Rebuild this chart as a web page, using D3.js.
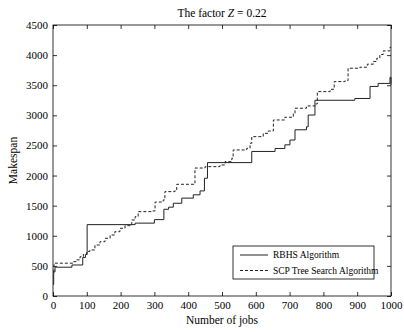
<!DOCTYPE html>
<html>
<head>
<meta charset="utf-8">
<script src="https://cdn.jsdelivr.net/npm/d3@7"></script>
<style>
  body { margin: 0; background: #fff; }
  svg text { font-family: "Liberation Serif", "Times New Roman", serif; fill: #000; }
</style>
</head>
<body>
<div id="chart"></div>
<script>
const xTicks = [0, 100, 200, 300, 400, 500, 600, 700, 800, 900, 1000];
const yTicks = [0, 500, 1000, 1500, 2000, 2500, 3000, 3500, 4000, 4500];

// RBHS Algorithm (solid)
const rbhsJobs = [0, 2, 6, 56, 88, 96, 101, 243, 300, 328, 342, 356, 381, 415, 435, 448, 457, 588, 657, 686, 701, 716, 750, 755, 775, 893, 938, 962, 997, 1000];
const rbhsSpan = [190, 400, 478, 515, 640, 690, 1185, 1210, 1268, 1440, 1475, 1540, 1625, 1680, 1745, 1955, 2215, 2400, 2450, 2510, 2590, 2760, 2810, 3005, 3250, 3280, 3480, 3530, 3630, 3510];

// SCP Tree Search Algorithm (dashed)
const scpJobs = [0, 3, 59, 70, 80, 90, 100, 109, 124, 139, 154, 169, 183, 198, 213, 228, 233, 243, 252, 292, 302, 326, 331, 361, 366, 420, 450, 494, 509, 529, 533, 573, 583, 588, 622, 637, 652, 686, 711, 716, 750, 775, 782, 820, 832, 864, 873, 908, 930, 948, 958, 967, 977, 997, 1000];
const scpSpan = [410, 545, 570, 600, 653, 690, 740, 764, 847, 902, 958, 1013, 1068, 1124, 1168, 1182, 1262, 1318, 1401, 1412, 1560, 1595, 1733, 1761, 1855, 2125, 2148, 2176, 2231, 2287, 2425, 2453, 2536, 2646, 2701, 2740, 2923, 2968, 3034, 3118, 3156, 3189, 3394, 3433, 3560, 3575, 3782, 3799, 3850, 3893, 3948, 4010, 4070, 4130, 4130];

const W = 404, H = 332;
const margin = { top: 25, right: 13, bottom: 36, left: 53 };
const width = W - margin.left - margin.right;
const height = H - margin.top - margin.bottom;

const svg = d3.select("#chart").append("svg")
    .attr("width", W)
    .attr("height", H);

const g = svg.append("g")
    .attr("transform", "translate(" + margin.left + "," + margin.top + ")");

const x = d3.scaleLinear().domain([0, 1000]).range([0, width]);
const y = d3.scaleLinear().domain([0, 4500]).range([height, 0]);

// axes, ticks pointing inward like matlab
const tick = 4;
const fmt = d3.format("d");
const styleAxis = sel => {
  sel.selectAll("path.domain").remove();
  sel.selectAll("line").attr("stroke", "#000").attr("stroke-width", 0.8);
  sel.selectAll("text").attr("font-size", 11);
};

g.append("g")
    .attr("transform", "translate(0," + height + ")")
    .call(d3.axisBottom(x).tickValues(xTicks).tickFormat(fmt).tickSizeInner(-tick).tickSizeOuter(0).tickPadding(5))
    .call(styleAxis);
g.append("g")
    .call(d3.axisTop(x).tickValues(xTicks).tickSizeInner(-tick).tickSizeOuter(0).tickFormat(""))
    .call(styleAxis);
g.append("g")
    .call(d3.axisLeft(y).tickValues(yTicks).tickFormat(fmt).tickSizeInner(-tick).tickSizeOuter(0).tickPadding(5))
    .call(styleAxis);
g.append("g")
    .attr("transform", "translate(" + width + ",0)")
    .call(d3.axisRight(y).tickValues(yTicks).tickSizeInner(-tick).tickSizeOuter(0).tickFormat(""))
    .call(styleAxis);

// box
g.append("rect")
    .attr("width", width)
    .attr("height", height)
    .attr("fill", "none")
    .attr("stroke", "#000")
    .attr("stroke-width", 0.8);

const line = d3.line()
    .x(d => x(d[0]))
    .y(d => y(d[1]))
    .curve(d3.curveStepAfter);

g.append("path")
    .datum(scpJobs.map((j, i) => [j, scpSpan[i]]))
    .attr("fill", "none")
    .attr("stroke", "#222")
    .attr("stroke-width", 1)
    .attr("stroke-dasharray", "3,2")
    .attr("d", line);

g.append("path")
    .datum(rbhsJobs.map((j, i) => [j, rbhsSpan[i]]))
    .attr("fill", "none")
    .attr("stroke", "#222")
    .attr("stroke-width", 1)
    .attr("d", line);

// title
const title = svg.append("text")
    .attr("x", margin.left + width / 2)
    .attr("y", 17)
    .attr("text-anchor", "middle")
    .attr("font-size", 11.5);
title.append("tspan").text("The factor ");
title.append("tspan").attr("font-style", "italic").text("Z");
title.append("tspan").text(" = 0.22");

// axis labels
svg.append("text")
    .attr("x", margin.left + width / 2)
    .attr("y", 324)
    .attr("text-anchor", "middle")
    .attr("font-size", 11.5)
    .text("Number of jobs");

svg.append("text")
    .attr("transform", "translate(17," + (margin.top + height / 2) + ") rotate(-90)")
    .attr("text-anchor", "middle")
    .attr("font-size", 11.5)
    .text("Makespan");

// legend
const legend = svg.append("g").attr("transform", "translate(233,246)");
legend.append("rect")
    .attr("width", 141)
    .attr("height", 33)
    .attr("fill", "#fff")
    .attr("stroke", "#000")
    .attr("stroke-width", 0.8);

const items = [
  { name: "RBHS Algorithm", dash: null },
  { name: "SCP Tree Search Algorithm", dash: "3,2" }
];
items.forEach((it, i) => {
  const yy = 9 + i * 15.5;
  legend.append("line")
      .attr("x1", 7).attr("x2", 35)
      .attr("y1", yy).attr("y2", yy)
      .attr("stroke", "#222")
      .attr("stroke-width", 1)
      .attr("stroke-dasharray", it.dash);
  legend.append("text")
      .attr("x", 40)
      .attr("y", yy + 3)
      .attr("font-size", 9.5)
      .text(it.name);
});
</script>
</body>
</html>
